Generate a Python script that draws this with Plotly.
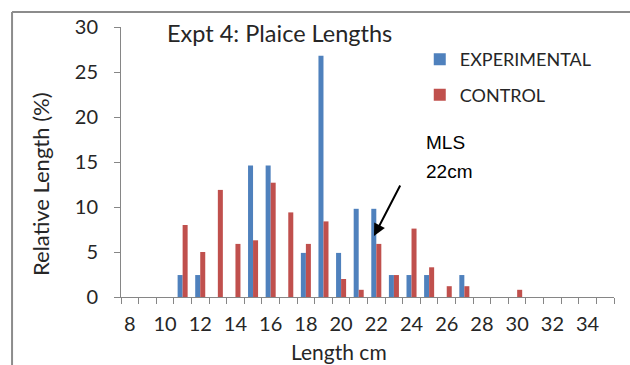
import plotly.graph_objects as go

lengths = list(range(8, 36))
experimental = [None, None, None, 2.44, 2.44, None, None, 14.6, 14.6, None, 4.9, 26.8, 4.9, 9.8,
                9.8, 2.44, 2.44, 2.44, None, 2.44, None, None, None, None, None, None, None, None]
control = [None, None, None, 8.0, 5.0, 11.9, 5.9, 6.3, 12.7, 9.4, 5.9, 8.4, 2.0, 0.8,
           5.9, 2.44, 7.6, 3.3, 1.2, 1.2, None, None, 0.8, None, None, None, None, None]
x_tick_labels = [str(v) for v in range(8, 35, 2)]

BLUE = "#4F81BD"
RED = "#C0504D"
AX = "#868686"
TXT = "#262626"
FONT = "Lato"

fig = go.Figure()
fig.add_trace(go.Bar(x=lengths, y=experimental, name="EXPERIMENTAL", marker_color=BLUE,
                     marker_line_width=0, legendgroup="a"))
fig.add_trace(go.Bar(x=lengths, y=control, name="CONTROL", marker_color=RED,
                     marker_line_width=0, legendgroup="b"))

fig.update_layout(
    width=630, height=365,
    margin=dict(l=121, r=16, t=27, b=68),
    paper_bgcolor="white", plot_bgcolor="white",
    barmode="group", bargap=0.43, bargroupgap=0,
    font=dict(family=FONT, size=18, color=TXT),
    showlegend=True,
    legend=dict(x=0.606, y=0.948, xanchor="left", yanchor="top",
                font=dict(family=FONT, size=18, color=TXT),
                traceorder="grouped", tracegroupgap=9,
                bgcolor="rgba(0,0,0,0)"),
)

fig.update_xaxes(
    range=[7.5, 35.5],
    tickmode="array", tickvals=list(range(8, 35, 2)), ticktext=x_tick_labels,
    ticks="", showgrid=False, zeroline=False,
    showline=True, linecolor=AX, linewidth=1,
    tickfont=dict(family=FONT, size=20, color=TXT),
    ticklabelstandoff=9,
    minor=dict(tickvals=[v + 0.5 for v in range(7, 36)], ticks="outside",
               ticklen=6, tickcolor=AX, tickwidth=1, showgrid=False),
)
fig.update_yaxes(
    range=[0, 30], tickmode="linear", tick0=0, dtick=5,
    ticks="outside", ticklen=6, tickcolor=AX, tickwidth=1,
    showgrid=False, zeroline=False,
    showline=True, linecolor=AX, linewidth=1,
    tickfont=dict(family=FONT, size=20, color=TXT),
    ticklabelstandoff=12,
)

annotations = [
    dict(text="Expt 4: Plaice Lengths", x=0.3225, y=0.978, xref="paper", yref="paper",
         xanchor="center", yanchor="middle", showarrow=False,
         font=dict(family=FONT, size=23.5, color=TXT)),
    dict(text="Relative Length (%)", x=-0.162, y=0.419, xref="paper", yref="paper",
         xanchor="center", yanchor="middle", textangle=-90, showarrow=False,
         font=dict(family=FONT, size=22, color=TXT)),
    dict(text="Length cm", x=0.442, y=-0.2, xref="paper", yref="paper",
         xanchor="center", yanchor="middle", showarrow=False,
         font=dict(family=FONT, size=21, color=TXT)),
    dict(text="MLS", x=0.615, y=0.572, xref="paper", yref="paper",
         xanchor="left", yanchor="middle", showarrow=False,
         font=dict(family="Liberation Sans", size=19, color="black")),
    dict(text="22cm", x=0.615, y=0.465, xref="paper", yref="paper",
         xanchor="left", yanchor="middle", showarrow=False,
         font=dict(family="Liberation Sans", size=19, color="black")),
    dict(text="", x=21.87, y=6.78, xref="x", yref="y",
         ax=23.4, ay=12.56, axref="x", ayref="y",
         showarrow=True, arrowhead=2, arrowsize=1.2, arrowwidth=2, arrowcolor="black",
         standoff=0, startstandoff=0),
]
fig.update_layout(annotations=annotations)

fig.update_layout(shapes=[
    dict(type="line", xref="paper", yref="paper", x0=-0.221, x1=-0.221, y0=1.0556, y1=-0.3,
         line=dict(color="#8C8C8C", width=2)),
    dict(type="line", xref="paper", yref="paper", x0=-0.221, x1=1.1, y0=1.0556, y1=1.0556,
         line=dict(color="#8C8C8C", width=2)),
])

fig.write_html("out.html")
